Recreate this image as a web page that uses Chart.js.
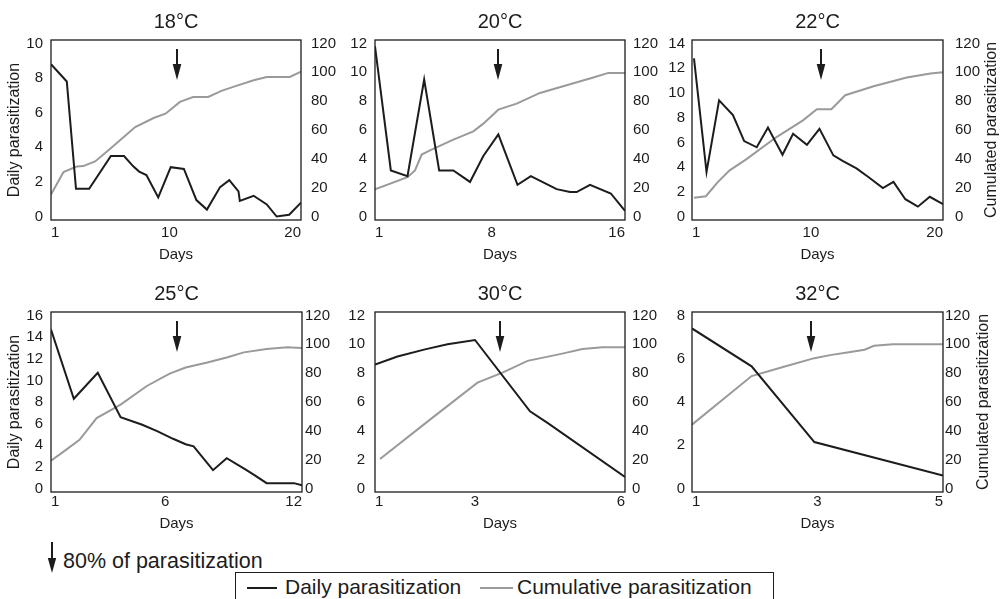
<!DOCTYPE html>
<html>
<head>
<meta charset="utf-8">
<script src="https://cdn.jsdelivr.net/npm/chart.js@4/dist/chart.umd.min.js"></script>
<style>
  html, body { margin: 0; padding: 0; background: #fff; overflow: hidden; }
  body { width: 1000px; height: 599px; position: relative; font-family: 'Liberation Sans', Arial, Helvetica, sans-serif; color: #1c1c1c; }
  canvas { position: absolute; }
  .abs { position: absolute; white-space: nowrap; }
  .key-box { position: absolute; border: 1.2px solid #1c1c1c; box-sizing: border-box; }
  .swatch { position: absolute; height: 2px; }
</style>
</head>
<body>
<canvas id="panel0"></canvas>
<canvas id="panel1"></canvas>
<canvas id="panel2"></canvas>
<canvas id="panel3"></canvas>
<canvas id="panel4"></canvas>
<canvas id="panel5"></canvas>

<svg class="abs" style="left:47px;top:542px" width="10" height="32">
  <line x1="5" y1="0" x2="5" y2="19" stroke="#1c1c1c" stroke-width="2"/>
  <polygon points="0.8,16 9.2,16 5,31" fill="#1c1c1c"/>
</svg>
<div class="abs" style="left:63px;top:547.5px;font-size:21.5px;line-height:26px">80% of parasitization</div>

<div class="key-box" style="left:235px;top:572px;width:539px;height:40px"></div>
<div class="swatch" style="left:247px;top:587px;width:30px;background:#1c1c1c"></div>
<div class="abs" style="left:285px;top:573.7px;font-size:21px;line-height:26px">Daily parasitization</div>
<div class="swatch" style="left:480px;top:587px;width:33px;background:#9a9a9a"></div>
<div class="abs" style="left:517px;top:573.7px;font-size:21px;line-height:26px">Cumulative parasitization</div>

<script>
// ---- data ---------------------------------------------------------------
const temperatureLabels = ['18°C', '20°C', '22°C', '25°C', '30°C', '32°C'];
const dayTicks = [[1, 10, 20], [1, 8, 16], [1, 10, 20], [1, 6, 12], [1, 3, 6], [1, 3, 5]];
const dailyTicks = [
  [0, 2, 4, 6, 8, 10],
  [0, 2, 4, 6, 8, 10, 12],
  [0, 2, 4, 6, 8, 10, 12, 14],
  [0, 2, 4, 6, 8, 10, 12, 14, 16],
  [0, 2, 4, 6, 8, 10, 12],
  [0, 2, 4, 6, 8]
];
const cumulativeTicks = [0, 20, 40, 60, 80, 100, 120];
// day on which 80% of parasitization is reached
const day80 = [10.6, 8.4, 10.8, 6.5, 3.5, 2.9];

// [day, value] pairs
const daily18 = [[1.0, 8.8], [2.2, 7.8], [2.9, 1.6], [3.9, 1.6], [5.55, 3.5], [6.55, 3.5], [7.25, 2.9], [7.7, 2.6],
  [8.25, 2.4], [9.15, 1.1], [10.1, 2.85], [11.1, 2.75], [12.05, 0.95], [12.85, 0.4], [13.85, 1.7], [14.55, 2.1],
  [15.25, 1.45], [15.35, 0.9], [16.4, 1.2], [17.4, 0.7], [18.15, 0.0], [19.1, 0.1], [20.0, 0.8]];
const cumulative18 = [[1.0, 15.3], [1.95, 30.8], [2.95, 34.7], [3.45, 35.0], [4.35, 38.2], [5.5, 47.0], [7.4, 62.0],
  [8.8, 68.3], [9.7, 71.3], [10.8, 79.5], [11.8, 82.9], [12.95, 82.9], [13.95, 87.1], [14.85, 89.9], [16.4, 94.5],
  [17.4, 96.8], [19.15, 96.8], [20.0, 100.5]];

const daily20 = [[1.0, 11.8], [1.95, 3.2], [2.95, 2.8], [3.95, 9.5], [4.85, 3.2], [5.7, 3.2], [6.7, 2.4], [7.5, 4.2],
  [8.4, 5.7], [9.55, 2.2], [10.35, 2.8], [11.9, 1.9], [12.7, 1.7], [13.1, 1.7], [13.9, 2.2], [15.15, 1.6], [16.0, 0.4]];
const cumulative20 = [[1.0, 18.8], [2.95, 27.3], [3.4, 32.0], [3.8, 43.0], [4.3, 45.9], [5.7, 53.3], [6.9, 59.1],
  [7.5, 64.4], [8.4, 74.1], [9.5, 78.3], [10.9, 85.7], [12.7, 91.7], [14.1, 96.4], [15.0, 99.6], [16.0, 99.6]];

const daily22 = [[1.15, 12.8], [2.1, 3.6], [3.05, 9.4], [4.1, 8.2], [4.95, 6.1], [5.9, 5.6], [6.75, 7.2], [7.85, 5.0],
  [8.65, 6.7], [9.7, 5.8], [10.65, 7.1], [11.7, 4.95], [12.4, 4.5], [13.45, 3.9], [14.35, 3.2], [15.45, 2.3],
  [16.25, 2.8], [17.15, 1.4], [18.1, 0.8], [19.0, 1.6], [20.0, 1.0]];
const cumulative22 = [[1.15, 13.0], [2.05, 14.1], [2.95, 23.9], [3.85, 32.0], [5.1, 39.6], [7.4, 55.1], [9.4, 66.7],
  [10.45, 74.4], [11.55, 74.4], [12.6, 84.1], [14.75, 90.3], [17.25, 96.4], [19.05, 99.1], [20.0, 100.0]];

const daily25 = [[1.0, 14.7], [2.0, 8.3], [3.05, 10.7], [4.05, 6.6], [5.0, 5.9], [5.65, 5.3], [6.35, 4.6], [6.9, 4.1],
  [7.25, 3.9], [8.1, 1.7], [8.7, 2.8], [9.5, 1.8], [9.95, 1.2], [10.45, 0.5], [11.65, 0.5], [12.0, 0.3]];
const cumulative25 = [[1.0, 19.3], [1.55, 25.6], [2.25, 33.8], [3.0, 48.9], [4.05, 58.2], [5.2, 71.1], [6.2, 79.7],
  [6.9, 83.9], [7.85, 87.4], [8.7, 90.9], [9.45, 94.4], [10.45, 96.7], [11.35, 97.9], [12.0, 97.4]];

const daily30 = [[1.0, 8.6], [1.45, 9.15], [2.0, 9.65], [2.45, 10.0], [3.0, 10.3], [4.1, 5.35], [4.45, 4.55], [6.0, 0.8]];
const cumulative30 = [[1.1, 20.5], [2.1, 47.8], [3.05, 73.4], [3.55, 80.4], [4.05, 88.5], [4.7, 93.2], [5.15, 96.7],
  [5.55, 97.9], [6.0, 97.9]];

const daily32 = [[1.0, 7.4], [1.95, 5.65], [2.95, 2.15], [5.0, 0.6]];
const cumulative32 = [[1.0, 44.3], [1.95, 78.0], [2.45, 84.3], [2.95, 90.4], [3.2, 92.5], [3.55, 94.8], [3.75, 96.2],
  [3.9, 99.0], [4.2, 100.0], [5.0, 100.0]];

const dailySeries = [daily18, daily20, daily22, daily25, daily30, daily32];
const cumulativeSeries = [cumulative18, cumulative20, cumulative22, cumulative25, cumulative30, cumulative32];

// ---- layout -------------------------------------------------------------
const FONT = "'Liberation Sans', Arial, Helvetica, sans-serif";
const INK = '#1c1c1c';
const GREY = '#9a9a9a';
const SIDE = 57, TOP = 40, BOTTOM = 45;

// plot frame of each panel in page pixels
const frames = [
  { l: 51, r: 301, t: 40, b: 220 },
  { l: 375, r: 625, t: 40, b: 220 },
  { l: 692, r: 943, t: 40, b: 220 },
  { l: 51, r: 302, t: 312, b: 492 },
  { l: 375, r: 625, t: 312, b: 492 },
  { l: 692, r: 943, t: 312, b: 492 }
];
const axisStyle = [
  { leftPad: 8, rightPad: 10, xPad: 4, daysPad: 1, leftTitle: true, rightTitle: null },
  { leftPad: 8, rightPad: 8, xPad: 4, daysPad: 1, leftTitle: false, rightTitle: null },
  { leftPad: 7, rightPad: 12, xPad: 4, daysPad: 1, leftTitle: false, rightTitle: 49 },
  { leftPad: 8, rightPad: 3, xPad: 1, daysPad: 4, leftTitle: true, rightTitle: null },
  { leftPad: 10, rightPad: 7, xPad: 1, daysPad: 4, leftTitle: false, rightTitle: null },
  { leftPad: 7, rightPad: 2, xPad: 1, daysPad: 4, leftTitle: false, rightTitle: 41 }
];

// frame around the plot area
const framePlugin = {
  id: 'plotFrame',
  afterDatasetsDraw(chart) {
    const { ctx, chartArea: a } = chart;
    ctx.save();
    ctx.strokeStyle = INK;
    ctx.lineWidth = 1.3;
    ctx.strokeRect(a.left, a.top, a.right - a.left, a.bottom - a.top);
    ctx.restore();
  }
};

// downward arrow marking the day of 80% parasitization
const arrowPlugin = {
  id: 'day80Arrow',
  afterDatasetsDraw(chart, args, opts) {
    const { ctx, chartArea: a, scales } = chart;
    const x = Math.round(scales.x.getPixelForValue(opts.day));
    ctx.save();
    ctx.strokeStyle = INK;
    ctx.fillStyle = INK;
    ctx.lineWidth = 2;
    ctx.beginPath();
    ctx.moveTo(x, a.top + 9);
    ctx.lineTo(x, a.top + 28);
    ctx.stroke();
    ctx.beginPath();
    ctx.moveTo(x - 4.3, a.top + 24);
    ctx.lineTo(x + 4.3, a.top + 24);
    ctx.lineTo(x, a.top + 40);
    ctx.closePath();
    ctx.fill();
    ctx.restore();
  }
};

// right-hand axis title, reading bottom to top
const sideTitlePlugin = {
  id: 'sideTitle',
  afterDraw(chart, args, opts) {
    if (opts.offset == null) return;
    const { ctx, chartArea: a } = chart;
    ctx.save();
    ctx.translate(a.right + opts.offset, (a.top + a.bottom) / 2);
    ctx.rotate(-Math.PI / 2);
    ctx.font = '16px ' + FONT;
    ctx.fillStyle = INK;
    ctx.textAlign = 'center';
    ctx.textBaseline = 'middle';
    ctx.fillText(opts.text, 0, 0);
    ctx.restore();
  }
};

function fixedTicks(values) {
  return scale => { scale.ticks = values.map(v => ({ value: v })); };
}

temperatureLabels.forEach((label, i) => {
  const f = frames[i];
  const s = axisStyle[i];
  const canvas = document.getElementById('panel' + i);
  canvas.width = f.r - f.l + 2 * SIDE;
  canvas.height = f.b - f.t + TOP + BOTTOM;
  canvas.style.left = (f.l - SIDE) + 'px';
  canvas.style.top = (f.t - TOP) + 'px';

  const days = dayTicks[i];
  const dTicks = dailyTicks[i];
  const dMax = dTicks[dTicks.length - 1];
  const cMax = cumulativeTicks[cumulativeTicks.length - 1];
  const tickFont = { family: FONT, size: 15 };

  new Chart(canvas, {
    type: 'line',
    data: {
      datasets: [
        { label: 'Daily parasitization', data: dailySeries[i], yAxisID: 'yDaily',
          borderColor: INK, borderWidth: 2 },
        { label: 'Cumulative parasitization', data: cumulativeSeries[i], yAxisID: 'yCum',
          borderColor: GREY, borderWidth: 2 }
      ]
    },
    options: {
      responsive: false,
      animation: false,
      devicePixelRatio: 1,
      layout: { padding: 0 },
      elements: { point: { radius: 0 }, line: { tension: 0, borderJoinStyle: 'miter' } },
      plugins: {
        legend: { display: false },
        tooltip: { enabled: false },
        title: {
          display: true, text: label, color: INK,
          font: { family: FONT, size: 20, weight: 'normal' },
          padding: { top: 10, bottom: 6 }
        },
        day80Arrow: { day: day80[i] },
        sideTitle: { offset: s.rightTitle, text: 'Cumulated parasitization' }
      },
      scales: {
        x: {
          type: 'linear',
          min: days[0], max: days[days.length - 1],
          afterBuildTicks: fixedTicks(days),
          afterFit: sc => { sc.height = BOTTOM; },
          grid: { display: false, drawTicks: false },
          border: { display: false },
          ticks: { font: tickFont, color: INK, padding: s.xPad, autoSkip: false, maxRotation: 0,
            align: 'inner', callback: v => String(v) },
          title: { display: true, text: 'Days', color: INK, font: { family: FONT, size: 15 },
            padding: { top: 0, bottom: s.daysPad } }
        },
        yDaily: {
          type: 'linear', position: 'left',
          min: -0.02 * dMax, max: 1.02 * dMax,
          afterBuildTicks: fixedTicks(dTicks),
          afterFit: sc => { sc.width = SIDE; },
          grid: { display: false, drawTicks: false },
          border: { display: false },
          ticks: { font: tickFont, color: INK, padding: s.leftPad, callback: v => String(v) },
          title: { display: s.leftTitle, text: 'Daily parasitization', color: INK,
            font: { family: FONT, size: 16 }, padding: { top: 11, bottom: 0 } }
        },
        yCum: {
          type: 'linear', position: 'right',
          min: -0.02 * cMax, max: 1.02 * cMax,
          afterBuildTicks: fixedTicks(cumulativeTicks),
          afterFit: sc => { sc.width = SIDE; },
          grid: { display: false, drawTicks: false },
          border: { display: false },
          ticks: { font: tickFont, color: INK, padding: s.rightPad, callback: v => String(v) }
        }
      }
    },
    plugins: [framePlugin, arrowPlugin, sideTitlePlugin]
  });
});
</script>
</body>
</html>
